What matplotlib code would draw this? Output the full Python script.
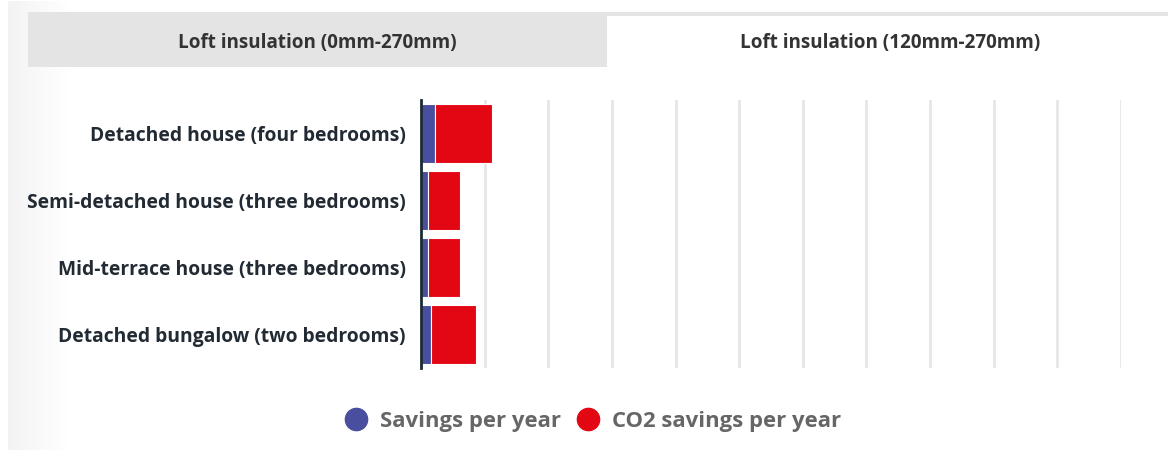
import matplotlib
matplotlib.use("Agg")
import matplotlib.pyplot as plt
import numpy as np
from matplotlib.lines import Line2D
from matplotlib.patches import Rectangle

categories = [
    "Detached house (four bedrooms)",
    "Semi-detached house (three bedrooms)",
    "Mid-terrace house (three bedrooms)",
    "Detached bungalow (two bedrooms)",
]
savings = [22, 11, 11, 16]
co2_savings = [89, 51, 51, 70]
series_names = ["Savings per year", "CO2 savings per year"]
tab_labels = ["Loft insulation (0mm-270mm)", "Loft insulation (120mm-270mm)"]

BLUE = "#4a4e9e"
RED = "#e30613"
W, H = 1168, 450

plt.rcParams["font.family"] = ["Open Sans", "DejaVu Sans"]
fig = plt.figure(figsize=(W / 100, H / 100), dpi=100)
fig.patch.set_facecolor("white")

def fx(px):
    return px / W

def fy(py):
    return 1 - py / H

# subtle left gradient background
bg = fig.add_axes([fx(8), 0, fx(60), fy(1)], zorder=-5)
grad = np.linspace(0, 1, 256)[None, :]
cmap = matplotlib.colors.LinearSegmentedColormap.from_list("g", ["#f3f3f3", "#ffffff"])
bg.imshow(grad, aspect="auto", cmap=cmap, extent=[0, 1, 0, 1])
bg.axis("off")

# tabs
fig.patches.append(Rectangle((fx(28), fy(67)), fx(607 - 28), fy(12) - fy(67),
                             transform=fig.transFigure, facecolor="#e4e4e4", edgecolor="none", zorder=-1))
fig.patches.append(Rectangle((fx(607), fy(16)), fx(W - 607), fy(12) - fy(16),
                             transform=fig.transFigure, facecolor="#e4e4e4", edgecolor="none", zorder=-1))
fig.text(fx(317), fy(43), tab_labels[0], ha="center", va="center", fontsize=13.6,
         fontweight="bold", color="#333333")
fig.text(fx(890), fy(43), tab_labels[1], ha="center", va="center", fontsize=13.6,
         fontweight="bold", color="#333333")

# main chart
ax = fig.add_axes([fx(421), fy(368), fx(1121 - 421), fy(100) - fy(368)])
y = np.arange(len(categories))
ax.barh(y, savings, height=0.88, color=BLUE, edgecolor="white", linewidth=0.8, zorder=3)
ax.barh(y, co2_savings, left=savings, height=0.88, color=RED, edgecolor="white", linewidth=0.8, zorder=3)
ax.set_xlim(0, 1100)
ax.set_ylim(len(categories) - 0.5, -0.5)
ax.set_xticks(np.arange(100, 1101, 100))
ax.xaxis.grid(True, color="#e6e6e6", linewidth=2)
ax.tick_params(axis="x", length=0, labelbottom=False)
ax.set_yticks(y)
ax.set_yticklabels(categories, fontsize=13.9, fontweight="bold", color="#222a33")
ax.tick_params(axis="y", length=0, pad=11)
for s in ["top", "right", "bottom"]:
    ax.spines[s].set_visible(False)
ax.spines["left"].set_color("#1c2b33")
ax.spines["left"].set_linewidth(2)
ax.spines["left"].set_zorder(5)
ax.set_facecolor("none")

handles = [Line2D([], [], marker="o", linestyle="none", markersize=16, color=c)
           for c in (BLUE, RED)]
fig.legend(handles, series_names, loc="center", bbox_to_anchor=(fx(593), fy(421)), ncol=2,
           frameon=False, prop={"family": ["Open Sans", "DejaVu Sans"], "weight": "bold", "size": 15.9},
           labelcolor="#666666", handletextpad=0.6, columnspacing=0.7, handlelength=1.0,
           borderpad=0, borderaxespad=0)

fig.savefig("out.png", dpi=100)
